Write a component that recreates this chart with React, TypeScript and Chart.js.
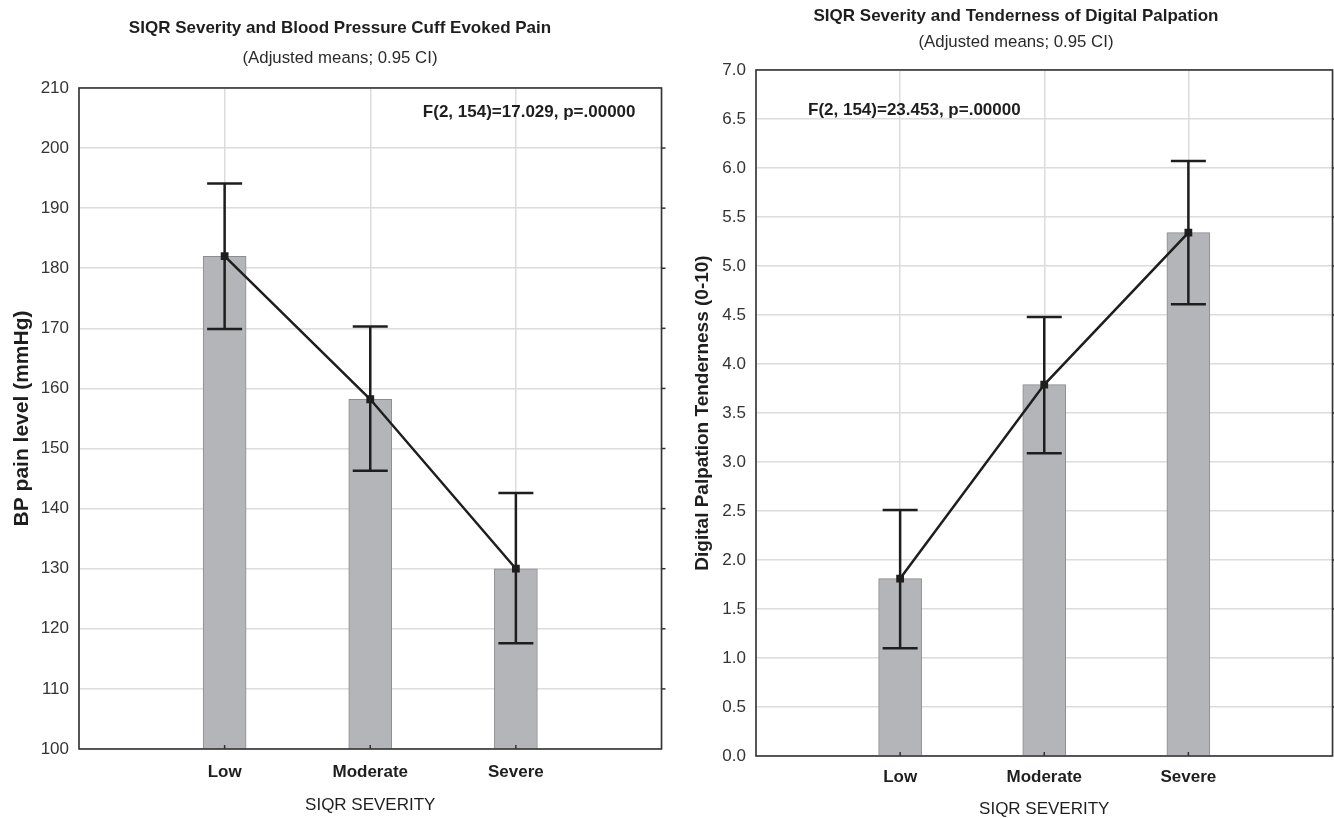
import React, { useEffect, useRef } from 'react';
import { Chart, registerables } from 'chart.js';

Chart.register(...registerables);

// ---------- data ----------
const xLabels = ['', 'Low', 'Moderate', 'Severe', ''];

const bpMeans = [182.0, 158.2, 130.0];
const bpLower = [169.9, 146.3, 117.6];
const bpUpper = [194.1, 170.3, 142.6];

const dpMeans = [1.81, 3.79, 5.34];
const dpLower = [1.1, 3.09, 4.61];
const dpUpper = [2.51, 4.48, 6.07];

const bpTitle = 'SIQR Severity and Blood Pressure Cuff Evoked Pain';
const dpTitle = 'SIQR Severity and Tenderness of Digital Palpation';
const subTitle = '(Adjusted means; 0.95 CI)';
const bpYTitle = 'BP pain level (mmHg)';
const dpYTitle = 'Digital Palpation Tenderness (0-10)';
const xTitle = 'SIQR SEVERITY';
const bpStat = 'F(2, 154)=17.029, p=.00000';
const dpStat = 'F(2, 154)=23.453, p=.00000';

const FONT = '"Liberation Sans", Arial, Helvetica, sans-serif';
const DARK = '#1e1e1e';

// ---------- plugins ----------
const errorBarsPlugin = {
  id: 'errorBars',
  afterDatasetsDraw(chart: any, _args: any, opts: any) {
    const { ctx, scales } = chart;
    const lower: number[] = opts.lower || [];
    const upper: number[] = opts.upper || [];
    ctx.save();
    ctx.strokeStyle = DARK;
    ctx.lineWidth = 2.5;
    for (let i = 0; i < lower.length; i++) {
      const x = scales.x.getPixelForValue(i + 1);
      const yl = scales.y.getPixelForValue(lower[i]);
      const yu = scales.y.getPixelForValue(upper[i]);
      const cap = 17.5;
      ctx.beginPath();
      ctx.moveTo(x, yu);
      ctx.lineTo(x, yl);
      ctx.moveTo(x - cap, yu);
      ctx.lineTo(x + cap, yu);
      ctx.moveTo(x - cap, yl);
      ctx.lineTo(x + cap, yl);
      ctx.stroke();
    }
    ctx.restore();
  },
};

const framePlugin = {
  id: 'frame',
  afterDraw(chart: any) {
    const { ctx, chartArea: a, scales } = chart;
    ctx.save();
    ctx.strokeStyle = '#333333';
    ctx.lineWidth = 1.6;
    ctx.strokeRect(a.left, a.top, a.right - a.left, a.bottom - a.top);
    ctx.lineWidth = 1.5;
    scales.y.ticks.forEach((t: any) => {
      const y = scales.y.getPixelForValue(t.value);
      if (y > a.top + 1 && y < a.bottom - 1) {
        ctx.beginPath();
        ctx.moveTo(a.right, y);
        ctx.lineTo(a.right + 4, y);
        ctx.stroke();
      }
    });
    for (let i = 1; i < xLabels.length - 1; i++) {
      const x = scales.x.getPixelForValue(i);
      ctx.beginPath();
      ctx.moveTo(x, a.bottom);
      ctx.lineTo(x, a.bottom - 4);
      ctx.stroke();
    }
    ctx.restore();
  },
};

const statPlugin = {
  id: 'stat',
  afterDraw(chart: any, _args: any, opts: any) {
    const { ctx, chartArea: a } = chart;
    ctx.save();
    ctx.fillStyle = DARK;
    ctx.font = `bold 17px ${FONT}`;
    ctx.textBaseline = 'middle';
    if (opts.align === 'right') {
      ctx.textAlign = 'right';
      ctx.fillText(opts.text, a.right - opts.dx, a.top + opts.dy);
    } else {
      ctx.textAlign = 'left';
      ctx.fillText(opts.text, a.left + opts.dx, a.top + opts.dy);
    }
    ctx.restore();
  },
};

type PanelProps = {
  left: number;
  width: number;
  padL: number;
  padR: number;
  title: string;
  titlePad: { top: number; bottom: number };
  subPad: { top: number; bottom: number };
  yTitle: string;
  yTitleSize: number;
  yTitlePadTop: number;
  yWidth: number;
  xHeight: number;
  xTickGap: number;
  xTitlePadBottom: number;
  yMin: number;
  yMax: number;
  yStep: number;
  decimals: number;
  means: number[];
  lower: number[];
  upper: number[];
  stat: string;
  statAlign: 'left' | 'right';
  statDx: number;
  statDy: number;
};

function Panel(p: PanelProps) {
  const ref = useRef<HTMLCanvasElement>(null);
  useEffect(() => {
    const gridColor = '#dcdcdc';
    const chart = new Chart(ref.current as HTMLCanvasElement, {
      type: 'bar',
      data: {
        labels: xLabels,
        datasets: [
          {
            type: 'line',
            data: [null, ...p.means, null],
            borderColor: DARK,
            borderWidth: 2.5,
            pointStyle: 'rect',
            pointRadius: 5.5,
            pointBackgroundColor: DARK,
            pointBorderWidth: 0,
            order: 1,
          } as any,
          {
            type: 'bar',
            data: [null, ...p.means, null],
            backgroundColor: '#b4b5b9',
            borderColor: '#8d8d91',
            borderWidth: 1,
            barThickness: 43,
            order: 2,
          } as any,
        ],
      },
      options: {
        responsive: false,
        animation: false,
        devicePixelRatio: 1,
        layout: { padding: { left: p.padL, right: p.padR, top: 0, bottom: 0 } },
        plugins: {
          legend: { display: false },
          tooltip: { enabled: false },
          title: {
            display: true,
            text: p.title,
            color: DARK,
            font: { family: FONT, size: 17, weight: 'bold', lineHeight: 1.2 },
            padding: p.titlePad,
          },
          subtitle: {
            display: true,
            text: subTitle,
            color: '#2a2a2a',
            font: { family: FONT, size: 16.8, lineHeight: 1.2 },
            padding: p.subPad,
          },
          errorBars: { lower: p.lower, upper: p.upper },
          stat: { text: p.stat, align: p.statAlign, dx: p.statDx, dy: p.statDy },
        } as any,
        scales: {
          x: {
            type: 'category',
            offset: false,
            grid: {
              offset: false,
              color: gridColor,
              lineWidth: 1.5,
              drawTicks: true,
              tickLength: p.xTickGap,
              tickColor: 'rgba(0,0,0,0)',
            },
            border: { display: false },
            ticks: {
              color: DARK,
              font: { family: FONT, size: 17, weight: 'bold' },
              padding: 0,
              autoSkip: false,
              maxRotation: 0,
            },
            title: {
              display: true,
              text: xTitle,
              color: DARK,
              font: { family: FONT, size: 17, lineHeight: 1 },
              padding: { top: 0, bottom: p.xTitlePadBottom },
            },
            afterFit: (s: any) => {
              s.height = p.xHeight;
            },
          },
          y: {
            min: p.yMin,
            max: p.yMax,
            grid: { color: gridColor, lineWidth: 1.5, drawTicks: false },
            border: { display: false },
            ticks: {
              stepSize: p.yStep,
              color: '#333333',
              font: { family: FONT, size: 17 },
              padding: 10,
              callback: (v: any) => Number(v).toFixed(p.decimals),
            },
            title: {
              display: true,
              text: p.yTitle,
              color: DARK,
              font: { family: FONT, size: p.yTitleSize, weight: 'bold', lineHeight: 1 },
              padding: { top: p.yTitlePadTop, bottom: 0 },
            },
            afterFit: (s: any) => {
              s.width = p.yWidth;
            },
          },
        },
      } as any,
      plugins: [errorBarsPlugin, framePlugin, statPlugin],
    });
    return () => chart.destroy();
  }, []);
  return (
    <canvas
      ref={ref}
      width={p.width}
      height={818}
      style={{ position: 'absolute', left: p.left, top: 0, width: p.width, height: 818 }}
    />
  );
}

export default function App() {
  return (
    <div
      style={{
        position: 'fixed',
        left: 0,
        top: 0,
        width: 1334,
        height: 818,
        background: '#ffffff',
        overflow: 'hidden',
      }}
    >
      <Panel
        left={0}
        width={667}
        padL={18}
        padR={5}
        title={bpTitle}
        titlePad={{ top: 18, bottom: 9 }}
        subPad={{ top: 1, bottom: 19.4 }}
        yTitle={bpYTitle}
        yTitleSize={21}
        yTitlePadTop={-6.5}
        yWidth={61}
        xHeight={69}
        xTickGap={13}
        xTitlePadBottom={4.5}
        yMin={100}
        yMax={210}
        yStep={10}
        decimals={0}
        means={bpMeans}
        lower={bpLower}
        upper={bpUpper}
        stat={bpStat}
        statAlign="right"
        statDx={26}
        statDy={24}
      />
      <Panel
        left={667}
        width={671}
        padL={28}
        padR={1}
        title={dpTitle}
        titlePad={{ top: 6, bottom: 5.5 }}
        subPad={{ top: 0, bottom: 17.9 }}
        yTitle={dpYTitle}
        yTitleSize={19}
        yTitlePadTop={-1.5}
        yWidth={61}
        xHeight={62}
        xTickGap={11}
        xTitlePadBottom={0}
        yMin={0}
        yMax={7}
        yStep={0.5}
        decimals={1}
        means={dpMeans}
        lower={dpLower}
        upper={dpUpper}
        stat={dpStat}
        statAlign="left"
        statDx={52}
        statDy={40}
      />
    </div>
  );
}
